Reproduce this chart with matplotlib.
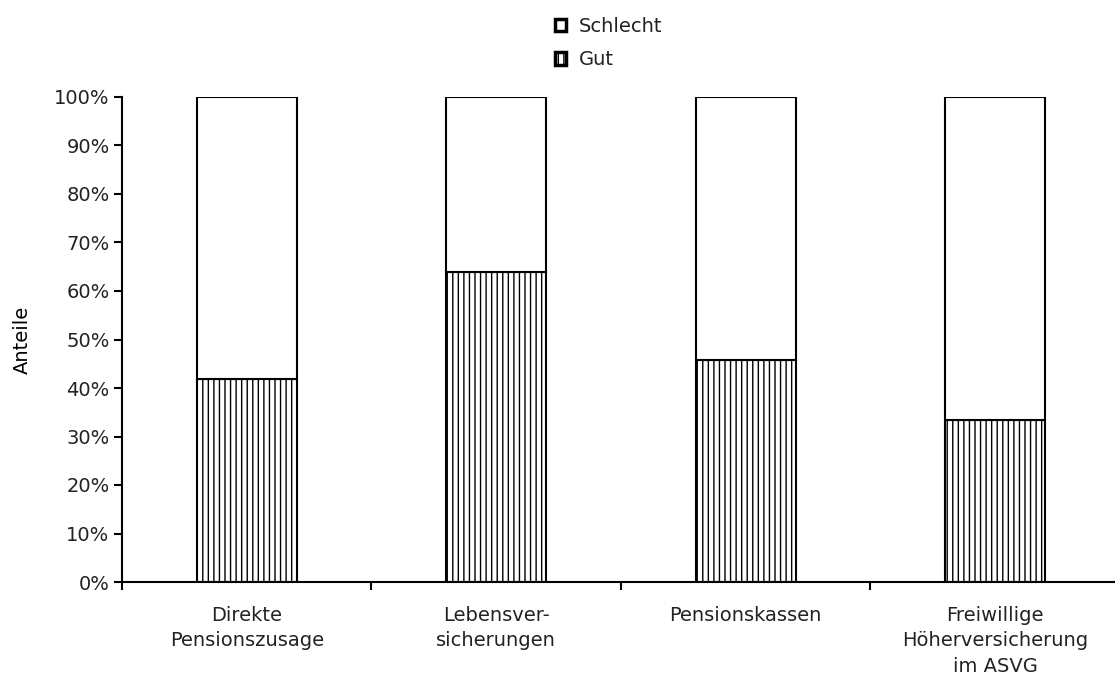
import matplotlib.pyplot as plt
from matplotlib.ticker import PercentFormatter

categories = ['Direkte\nPensionszusage', 'Lebensver-\nsicherungen',
              'Pensionskassen', 'Freiwillige\nHöherversicherung\nim ASVG']
gut = [41.9, 63.9, 45.8, 33.3]
schlecht = [100 - g for g in gut]

plt.rcParams['font.family'] = ['DejaVu Sans']
plt.rcParams['hatch.linewidth'] = 1.0
plt.rcParams['text.color'] = '#222222'

fig = plt.figure(figsize=(11.15, 6.86), dpi=100)
ax = fig.add_axes([122 / 1115, 104 / 686, 993 / 1115, 485 / 686])

index = list(range(len(categories)))
b1 = ax.bar(index, gut, width=0.4, color='white', edgecolor='black',
            linewidth=1.5, hatch='|||', label='Gut')
b2 = ax.bar(index, schlecht, bottom=gut, width=0.4, color='white',
            edgecolor='black', linewidth=1.5, label='Schlecht')

ax.set_xlim(-0.5, 3.48)
ax.set_ylim(0, 100)
ax.set_yticks(range(0, 101, 10))
ax.yaxis.set_major_formatter(PercentFormatter(decimals=0))
ax.set_xticks([-0.5, 0.5, 1.5, 2.5])
ax.set_xticklabels([])
ax.set_xticks(index, minor=True)
ax.set_xticklabels(categories, minor=True, linespacing=1.45, color='#222222')
ax.tick_params(axis='x', which='minor', length=0, pad=17, labelsize=14)
ax.tick_params(axis='x', which='major', direction='out', length=6, width=1.5)
ax.tick_params(axis='y', direction='out', length=6, width=1.5, labelsize=14,
               labelcolor='#222222', pad=3)
for s in ['top', 'right']:
    ax.spines[s].set_visible(False)
for s in ['left', 'bottom']:
    ax.spines[s].set_linewidth(1.5)
ax.set_ylabel('Anteile', fontsize=14, labelpad=16)

leg = ax.legend([b2, b1], ['Schlecht', 'Gut'], loc='lower center',
                bbox_to_anchor=(0.49, 1.037), frameon=False, fontsize=14,
                handlelength=0.6, handleheight=0.6, handletextpad=0.65,
                labelspacing=0.75, borderpad=0)
for h in leg.legend_handles:
    h.set_linewidth(2.5)

fig.savefig('out.png', dpi=100)
